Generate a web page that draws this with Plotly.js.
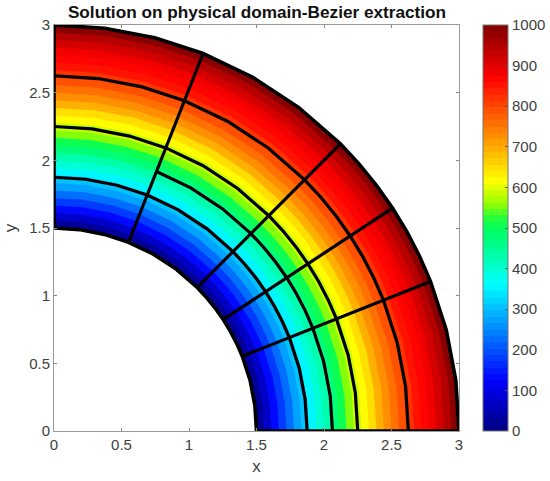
<!DOCTYPE html>
<html><head><meta charset="utf-8">
<script src="https://cdn.plot.ly/plotly-3.0.1.min.js"></script>
<style>html,body{margin:0;padding:0;background:#fff}#c{width:550px;height:481px}</style>
</head><body><div id="c"></div>
<script>
// outer radius of every colour band, read along the axes
const bandRadii = [1.556,1.611,1.667,1.722,1.778,1.833,1.889,1.944,2.0,2.056,2.111,2.167,2.222,2.278,2.333,2.389,2.444,2.5,2.556,2.611,2.667,2.722,2.778,2.833,2.889,2.944,3.0];
// solution value of every band
const bandValues = [27,78,128,176,222,267,311,354,395,435,474,512,549,585,620,654,688,721,753,784,815,845,870,885,910,945,990];
// faceted angles (degrees) of the mesh curves
const facetAngles = [0,7.2,14.4,21.6,25.5,29.4,33.3,37.2,41.1,45,52.8,60.6,68.4,75.6,82.8,90];
const fullArcRadii = [1.875,2.25,2.625];
const partialArcRadius = 2.0625, partialArcEnd = 68.4;
const innerRadius = 1.5, outerRadius = 3;
const spokeAngles = [21.6,33.3,45,68.4];
const xTicks = [0,0.5,1,1.5,2,2.5,3];
const yTicks = [0,0.5,1,1.5,2,2.5,3];
const cbTicks = [0,100,200,300,400,500,600,700,800,900,1000];
// colour map: [value, r, g, b]
const cmapKnots = [[0,0,0,128],[125,0,0,255],[360,0,255,255],[500,0,255,90],[525,40,255,60],[560,150,255,0],[615,255,255,0],[870,255,0,0],[1000,128,0,0]];

const rad = d => d*Math.PI/180;
const px = (r,a) => r*Math.cos(rad(a));
const py = (r,a) => r*Math.sin(rad(a));
function cmapAt(v){
  for(let i=1;i<cmapKnots.length;i++){ if(v<=cmapKnots[i][0]){ const a=cmapKnots[i-1],b=cmapKnots[i],t=(v-a[0])/(b[0]-a[0]);
    return `rgb(${[1,2,3].map(c=>Math.round(a[c]+(b[c]-a[c])*t)).join(',')})`; } }
  return 'rgb(128,0,0)';
}
const step = j => cmapAt((j+0.5)/64*1000);
const colorOf = v => step(Math.min(63,Math.floor(v/1000*64)));
const scale=[]; for(let j=0;j<64;j++){ scale.push([j/64,step(j)]); scale.push([(j+1)/64,step(j)]); }

const traces=[];
for(let k=bandRadii.length-1;k>=0;k--){
  const X=[],Y=[];
  facetAngles.forEach(a=>{X.push(px(bandRadii[k],a));Y.push(py(bandRadii[k],a));});
  facetAngles.slice().reverse().forEach(a=>{X.push(px(innerRadius,a));Y.push(py(innerRadius,a));});
  X.push(X[0]);Y.push(Y[0]);
  traces.push({type:'scatter',mode:'lines',x:X,y:Y,fill:'toself',fillcolor:colorOf(bandValues[k]),
    line:{width:0,color:colorOf(bandValues[k])},hoverinfo:'skip',showlegend:false,cliponaxis:false});
}
function arc(r,end,X,Y){ facetAngles.filter(a=>a<=end).forEach(a=>{X.push(px(r,a));Y.push(py(r,a));}); X.push(null);Y.push(null); }
const mx=[],my=[];
fullArcRadii.forEach(r=>arc(r,90,mx,my));
arc(partialArcRadius,partialArcEnd,mx,my);
spokeAngles.forEach(a=>{mx.push(px(innerRadius,a),px(outerRadius,a),null);my.push(py(innerRadius,a),py(outerRadius,a),null);});
traces.push({type:'scatter',mode:'lines',x:mx,y:my,line:{color:'#000',width:3.2,simplify:false},hoverinfo:'skip',showlegend:false,cliponaxis:false,connectgaps:false});
const bx=[],by=[];
facetAngles.forEach(a=>{bx.push(px(outerRadius,a));by.push(py(outerRadius,a));});
facetAngles.slice().reverse().forEach(a=>{bx.push(px(innerRadius,a));by.push(py(innerRadius,a));});
bx.push(bx[0]);by.push(by[0]);
traces.push({type:'scatter',mode:'lines',x:bx,y:by,line:{color:'#000',width:3.6,simplify:false},hoverinfo:'skip',showlegend:false,cliponaxis:false});
// carries the colour bar
traces.push({type:'scatter',mode:'markers',x:[1,1],y:[1,1],hoverinfo:'skip',showlegend:false,
  marker:{size:1,opacity:0,color:[0,1000],cmin:0,cmax:1000,colorscale:scale,
    colorbar:{x:(483-53.5)/405.5,xanchor:'left',xref:'paper',y:0.5,yanchor:'middle',yref:'paper',len:1,lenmode:'fraction',
      thickness:25,thicknessmode:'pixels',xpad:0,ypad:0,tickvals:cbTicks,ticktext:cbTicks.map(String),tickmode:'array',
      ticks:'inside',ticklen:3,tickcolor:'#555',tickwidth:1,outlinecolor:'#777',outlinewidth:1,borderwidth:0,
      tickfont:{family:'Liberation Sans',size:15,color:'#404040'}}}});

const axis = (ticks,title,standoff)=>({range:[0,3],tickvals:ticks,ticktext:ticks.map(String),tickmode:'array',ticks:'inside',ticklen:3,tickwidth:1,
  tickcolor:'#888',showline:true,linecolor:'#999',linewidth:1,mirror:'allticks',showgrid:false,zeroline:false,automargin:false,
  tickfont:{family:'Liberation Sans',size:15,color:'#404040'},
  title:{text:title,font:{family:'Liberation Sans',size:17,color:'#404040'},standoff:standoff}});
Plotly.newPlot('c',traces,{
  width:550,height:481,
  margin:{l:53.5,r:91,t:25,b:50,pad:0,autoexpand:false},
  paper_bgcolor:'#fff',plot_bgcolor:'#fff',showlegend:false,
  title:{text:'<b>Solution on physical domain-Bezier extraction</b>',font:{family:'Liberation Sans',size:17.2,color:'#111'},
    x:257/550,xanchor:'center',y:1-12/481,yanchor:'middle'},
  xaxis:axis(xTicks,'x',8),yaxis:axis(yTicks,'y',8)
},{displayModeBar:false,staticPlot:true});
</script></body></html>
